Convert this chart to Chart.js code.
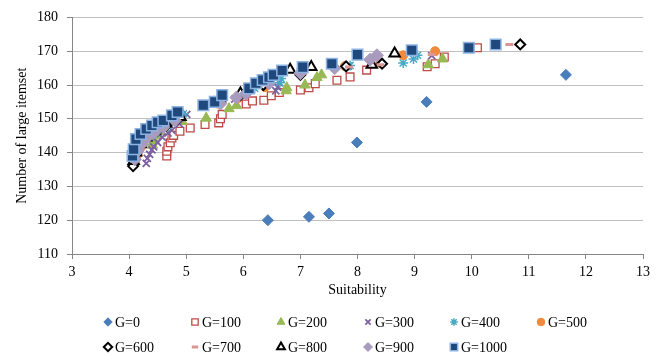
<!DOCTYPE html>
<html>
<head>
<meta charset="utf-8">
<script src="https://cdn.jsdelivr.net/npm/chart.js@4.4.1/dist/chart.umd.min.js"></script>
<style>
html,body{margin:0;padding:0;background:#fff;}
#wrap{width:665px;height:355px;position:relative;}
</style>
</head>
<body>
<div id="wrap"><canvas id="c" width="665" height="355"></canvas></div>
<script>
// ---- data ----
const seriesNames = ["G=0","G=100","G=200","G=300","G=400","G=500","G=600","G=700","G=800","G=900","G=1000"];
const xTicks = [3,4,5,6,7,8,9,10,11,12,13];
const yTicks = [110,120,130,140,150,160,170,180];

const G0 = [[6.43,120],[7.15,121],[7.50,122],[7.99,143],[9.21,155],[11.65,163]];
const G100 = [[4.66,139],[4.66,140.4],[4.68,141.7],[4.72,142.9],[4.75,144.3],[4.78,145.1],[4.89,146.3],[5.07,147.3],[5.33,148.3],[5.57,148.8],[5.6,150],[5.63,151.3],[6.05,154.4],[6.16,155.3],[6.36,155.5],[6.49,156.8],[6.63,157.8],[7.0,158.5],[7.15,159.2],[7.26,160.4],[7.64,161.4],[7.87,162.4],[8.16,164.4],[9.22,165.4],[9.36,166.3],[9.52,168.3],[10.1,171]];
const G200 = [[4.41,142.2],[4.44,143.6],[4.5,145.1],[4.55,146.3],[4.61,147.3],[4.93,149.2],[5.35,150.2],[5.75,153],[5.88,153.9],[6.75,158.3],[6.76,159.2],[7.08,160],[7.29,162.2],[7.37,163],[9.24,166],[9.49,167.7]];
const G300 = [[4.3,136.8],[4.32,138.3],[4.36,139.5],[4.4,140.8],[4.43,141.7],[4.5,143],[4.58,144.6],[4.68,145.8],[4.75,146.6],[4.88,148.5],[5.01,151.3],[5.85,155.8],[6.57,158.3],[6.6,159.4],[6.63,160.7],[7.0,164],[7.84,165.6],[9.3,168.7]];
const G400 = [[4.12,139],[4.17,140.5],[4.22,142],[4.28,143.3],[4.35,144.5],[4.45,145.5],[4.55,146.7],[4.68,148],[4.8,149.5],[4.95,151.5],[5.6,155],[6.2,159],[6.64,160.7],[6.66,161.9],[7.87,165.8],[8.8,166.5],[8.98,167.7],[9.05,168.8]];
const G500 = [[4.1,137],[4.15,139.5],[4.2,141.5],[4.25,142.6],[4.33,144.5],[4.45,146],[4.6,147.5],[4.8,149.5],[5.55,154.5],[5.9,156],[6.38,159.4],[7.0,163.5],[7.78,165.6],[8.4,166.5],[8.8,168.8],[9.36,170]];
const G600 = [[4.07,136],[4.1,138],[4.12,140],[4.18,142],[4.25,143.5],[4.35,145],[4.5,146.5],[4.65,148],[4.85,150],[5.6,155],[5.95,157],[6.35,160],[7.0,163],[7.8,165.5],[8.43,166.3],[10.85,172]];
const G700 = [[4.08,137],[4.12,139],[4.2,141],[4.3,143.5],[4.45,145.5],[4.6,147],[4.8,149],[5.55,154],[6.0,157],[6.4,160],[7.05,163.5],[7.85,165.3],[8.4,166],[9.3,169],[10.66,172]];
const G800 = [[4.08,137.5],[4.12,140],[4.2,142.5],[4.3,144.5],[4.45,146.5],[4.65,148.5],[4.9,150.5],[5.5,154.5],[5.95,157.5],[6.42,161],[6.82,164.5],[7.19,165.3],[8.25,166],[8.65,169.3]];
const G900 = [[4.1,138],[4.15,140.5],[4.22,142.5],[4.32,144.5],[4.45,146],[4.6,147.5],[4.8,149.5],[5.6,154.5],[5.88,156.3],[6.05,157.5],[6.45,160.5],[7.0,163.5],[7.6,165],[8.22,167.5],[8.34,168.8]];
const G1000 = [[4.06,139],[4.08,141],[4.12,144],[4.2,145.5],[4.3,147],[4.4,148],[4.5,149],[4.6,149.5],[4.75,151],[4.85,152],[5.3,154],[5.5,155],[5.63,157],[6.1,159],[6.22,160.5],[6.34,161.5],[6.45,162.3],[6.53,163],[6.68,164.3],[7.04,165.3],[7.55,166.3],[8.0,169],[8.95,170.3],[9.95,171],[10.42,172]];

const allSeries = [G0,G100,G200,G300,G400,G500,G600,G700,G800,G900,G1000];

// ---- styles ----
const styles = [
  {pointStyle:'rectRot', radius:5.5, lr:4.2, bg:'#4a7ebb', border:'#4a7ebb', bw:1},
  {pointStyle:'rect', radius:5.5, lr:4.5, bg:'#ffffff', border:'#be4b48', bw:1.3},
  {pointStyle:'triangle', radius:6, lr:4.5, bg:'#98b954', border:'#98b954', bw:1},
  {pointStyle:'crossRot', radius:5, lr:3.8, bg:'#7d60a0', border:'#7d60a0', bw:1.8},
  {pointStyle:'star', radius:5, lr:3.8, bg:'#46aac5', border:'#46aac5', bw:1.5},
  {pointStyle:'circle', radius:4.5, lr:3.8, bg:'#f08a3c', border:'#f08a3c', bw:1},
  {pointStyle:'rectRot', radius:5, lr:4.2, bg:'#ffffff', border:'#000000', bw:2},
  {pointStyle:'line', radius:4, lr:3.2, bg:'#d99694', border:'#d99694', bw:3},
  {pointStyle:'triangle', radius:6, lr:4.5, bg:'#ffffff', border:'#000000', bw:2},
  {pointStyle:'rectRot', radius:6.5, lr:4.5, bg:'#a99bbd', border:'#a99bbd', bw:1},
  {pointStyle:'rect', radius:7.5, lr:5.2, bg:'#1f497d', border:'#8db3e2', bw:1.5}
];

const datasets = allSeries.map((s, i) => ({
  label: seriesNames[i],
  data: s.map(p => ({x: p[0], y: p[1]})),
  pointStyle: styles[i].pointStyle,
  pointRadius: styles[i].radius,
  pointHoverRadius: styles[i].radius,
  backgroundColor: styles[i].bg,
  borderColor: styles[i].border,
  pointBorderWidth: styles[i].bw,
  showLine: false,
  order: allSeries.length - i
}));

const legendPlugin = {
  id: 'gridLegend',
  afterDraw(chart) {
    const ctx = chart.ctx;
    const colX = [108, 195, 281, 368, 454, 541];
    const rowY = [322, 347];
    ctx.save();
    ctx.font = '14px "Liberation Serif", "Times New Roman", serif';
    ctx.textBaseline = 'middle';
    ctx.textAlign = 'left';
    seriesNames.forEach((name, i) => {
      const r = Math.floor(i / 6), c = i % 6;
      const x = colX[c], y = rowY[r];
      const st = styles[i];
      ctx.fillStyle = st.bg;
      ctx.strokeStyle = st.border;
      ctx.lineWidth = st.bw;
      Chart.helpers.drawPoint(ctx, {pointStyle: st.pointStyle, radius: st.lr, rotation: 0, borderWidth: st.bw}, x, y);
      ctx.fillStyle = '#000';
      ctx.fillText(name, x + 7, y + 1);
    });
    ctx.restore();
  }
};

const tickFont = {family: '"Liberation Serif", "Times New Roman", serif', size: 14};

new Chart(document.getElementById('c'), {
  type: 'scatter',
  data: {datasets},
  plugins: [legendPlugin],
  options: {
    responsive: false,
    animation: false,
    devicePixelRatio: 1,
    layout: {padding: {top: 14, right: 22, bottom: 51, left: 0}},
    plugins: {legend: {display: false}, tooltip: {enabled: false}},
    scales: {
      x: {
        type: 'linear', min: 3, max: 13,
        afterBuildTicks: (s) => { s.ticks = xTicks.map(v => ({value: v})); },
        afterFit: (s) => { s.height = 50; },
        grid: {drawOnChartArea: false, drawTicks: true, tickLength: 5, color: '#868686', tickColor: '#868686'},
        border: {display: true, color: '#868686', width: 1},
        ticks: {font: tickFont, color: '#000', padding: 5, maxRotation: 0},
        title: {display: true, text: 'Suitability', font: tickFont, color: '#000', padding: {top: 2, bottom: 5}}
      },
      y: {
        type: 'linear', min: 110, max: 180,
        afterBuildTicks: (s) => { s.ticks = yTicks.map(v => ({value: v})); },
        afterFit: (s) => { s.width = 72; },
        grid: {drawOnChartArea: true, drawTicks: true, tickLength: 5, color: '#c0c0c0', tickColor: '#868686'},
        border: {display: true, color: '#868686', width: 1},
        ticks: {font: tickFont, color: '#000', padding: 9},
        title: {display: true, text: 'Number of large itemset', font: tickFont, color: '#000', padding: {top: 14, bottom: 0}}
      }
    }
  }
});
</script>
</body>
</html>
